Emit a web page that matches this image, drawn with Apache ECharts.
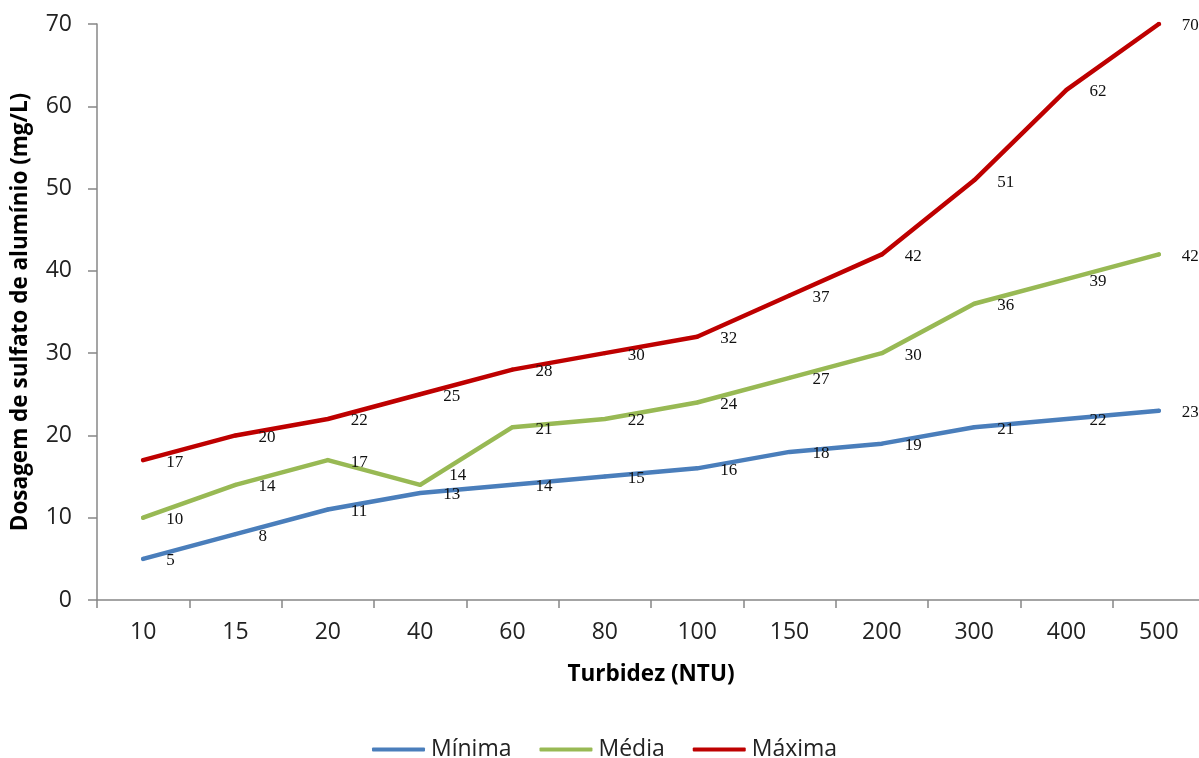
<!DOCTYPE html>
<html>
<head>
<meta charset="utf-8">
<title>Dosagem de sulfato de alumínio</title>
<script src="https://cdn.jsdelivr.net/npm/echarts@6/dist/echarts.min.js"></script>
<style>
  html, body { margin: 0; padding: 0; background: #ffffff; }
  #chart { width: 1199px; height: 758px; }
</style>
</head>
<body>
<div id="chart"></div>
<script>
// Turbidity classes (NTU) on the category axis
const turbidez = ['10', '15', '20', '40', '60', '80', '100', '150', '200', '300', '400', '500'];

// Aluminium sulphate dosage (mg/L) per turbidity class
const minima = [5, 8, 11, 13, 14, 15, 16, 18, 19, 21, 22, 23];
const media  = [10, 14, 17, 14, 21, 22, 24, 27, 30, 36, 39, 42];
const maxima = [17, 20, 22, 25, 28, 30, 32, 37, 42, 51, 62, 70];

// Y axis range
const yMin = 0;
const yMax = 70;
const yStep = 10;

const sansFont = '"Open Sans", "Liberation Sans", sans-serif';
const serifFont = '"Liberation Serif", "DejaVu Serif", serif';

// A few labels sit slightly away from their default spot
const labelNudges = {
  'Média': { 3: [6, -11] }
};

function buildData(name, values) {
  const nudges = labelNudges[name] || {};
  return values.map((v, i) => {
    if (nudges[i]) {
      return { value: v, label: { offset: [nudges[i][0], 2 + nudges[i][1]] } };
    }
    return v;
  });
}

function makeSeries(name, values, color) {
  return {
    name: name,
    type: 'line',
    data: buildData(name, values),
    symbol: 'circle',
    symbolSize: 4,
    showSymbol: true,
    itemStyle: { color: color },
    lineStyle: { color: color, width: 4.5, join: 'round', cap: 'round' },
    label: {
      show: true,
      position: 'right',
      distance: 21,
      offset: [0, 2],
      color: '#111111',
      fontFamily: serifFont,
      fontSize: 17
    },
    emphasis: { disabled: true },
    z: 3
  };
}

const chart = echarts.init(document.getElementById('chart'), null, { renderer: 'canvas' });

chart.setOption({
  animation: false,
  backgroundColor: '#ffffff',
  grid: {
    left: 97,
    top: 24,
    width: 1108,
    height: 576,
    outerBoundsMode: 'none',
    containLabel: false
  },
  legend: {
    left: 367,
    top: 733,
    icon: 'roundRect',
    itemWidth: 53,
    itemHeight: 4,
    itemGap: 28,
    textStyle: {
      fontFamily: sansFont,
      fontSize: 23,
      color: '#222222',
      padding: [0, 0, 0, 1]
    },
    data: ['Mínima', 'Média', 'Máxima']
  },
  xAxis: {
    type: 'category',
    data: turbidez,
    boundaryGap: true,
    name: 'Turbidez (NTU)',
    nameLocation: 'middle',
    nameGap: 63,
    nameTextStyle: {
      fontFamily: sansFont,
      fontSize: 22.5,
      fontWeight: 'bold',
      color: '#000000'
    },
    axisLine: { show: true, lineStyle: { color: '#878787', width: 1.5 } },
    axisTick: { show: true, length: 8, inside: false, alignWithLabel: false, lineStyle: { color: '#878787', width: 1.5 } },
    axisLabel: {
      margin: 21,
      fontFamily: sansFont,
      fontSize: 23,
      color: '#222222'
    },
    splitLine: { show: false }
  },
  yAxis: {
    type: 'value',
    min: yMin,
    max: yMax,
    interval: yStep,
    name: 'Dosagem de sulfato de alumínio (mg/L)',
    nameLocation: 'middle',
    nameGap: 65,
    nameTextStyle: {
      fontFamily: sansFont,
      fontSize: 22.5,
      fontWeight: 'bold',
      color: '#000000'
    },
    axisLine: { show: true, lineStyle: { color: '#878787', width: 1.5 } },
    axisTick: { show: true, length: 9, inside: false, lineStyle: { color: '#878787', width: 1.5 } },
    axisLabel: {
      margin: 25,
      fontFamily: sansFont,
      fontSize: 23,
      color: '#222222'
    },
    splitLine: { show: false }
  },
  series: [
    makeSeries('Mínima', minima, '#4A7EBB'),
    makeSeries('Média', media, '#98B954'),
    makeSeries('Máxima', maxima, '#BE0000')
  ]
});
</script>
</body>
</html>
